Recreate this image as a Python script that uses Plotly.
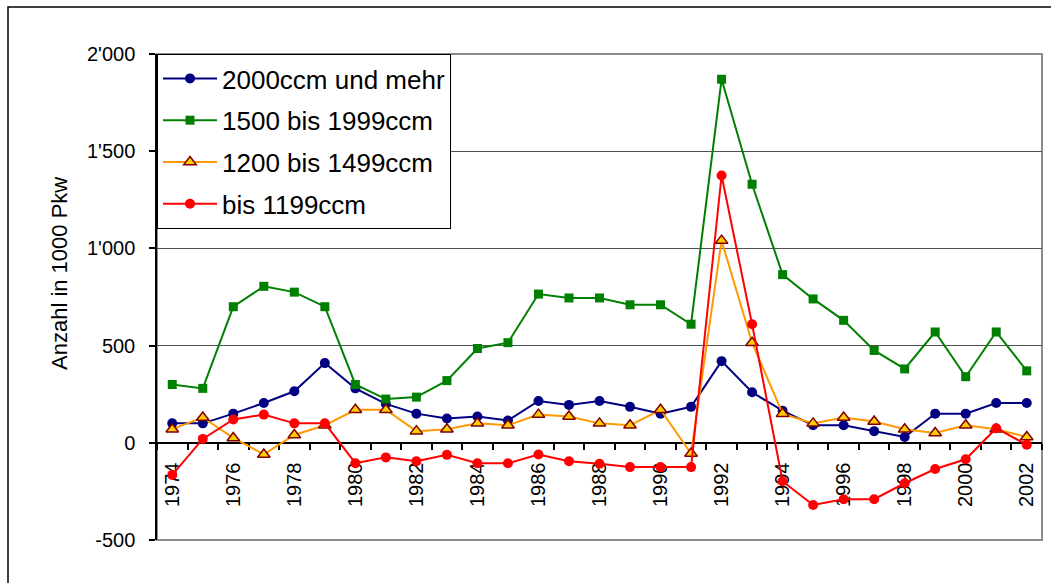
import plotly.graph_objects as go

# Neuzulassungen nach Hubraumklasse, Veränderung in 1000 Pkw
years = list(range(1974, 2003))

ccm_2000_plus = [100, 100, 150, 205, 265, 410, 280, 200, 150, 125,
                 135, 115, 215, 195, 215, 185, 150, 185, 420, 260,
                 165, 90, 90, 60, 30, 150, 150, 205, 205]
ccm_1500_1999 = [300, 280, 700, 805, 775, 700, 300, 225, 235, 320,
                 485, 515, 765, 745, 745, 710, 710, 610, 1870, 1330,
                 865, 740, 630, 475, 380, 570, 340, 570, 370]
ccm_1200_1499 = [70, 130, 25, -60, 40, 90, 170, 170, 60, 70,
                 100, 90, 145, 135, 100, 90, 170, -55, 1040, 515,
                 150, 100, 130, 110, 70, 50, 90, 70, 30]
ccm_bis_1199 = [-165, 20, 120, 145, 100, 100, -105, -75, -95, -62,
                -105, -105, -60, -95, -108, -125, -125, -125, 1375, 610,
                -198, -320, -290, -290, -208, -135, -85, 75, -10]

series_names = ["2000ccm und mehr", "1500 bis 1999ccm", "1200 bis 1499ccm", "bis 1199ccm"]

x_labels = [str(y) for y in years[::2]]
y_ticks = [-500, 0, 500, 1000, 1500, 2000]
y_tick_text = ["-500", "0", "500", "1'000", "1'500", "2'000"]

FONT = "Liberation Sans, Arial, sans-serif"

fig = go.Figure()

fig.add_trace(go.Scatter(
    x=years, y=ccm_2000_plus, name=series_names[0], mode="lines+markers",
    line=dict(color="#000080", width=2),
    marker=dict(symbol="circle", size=10, color="#000080"),
    legendgroup="a"))
fig.add_trace(go.Scatter(
    x=years, y=ccm_1500_1999, name=series_names[1], mode="lines+markers",
    line=dict(color="#008000", width=2),
    marker=dict(symbol="square", size=9, color="#008000"),
    legendgroup="b"))
fig.add_trace(go.Scatter(
    x=years, y=ccm_1200_1499, name=series_names[2], mode="lines+markers",
    line=dict(color="#FF9900", width=2),
    marker=dict(symbol="triangle-up", size=11, color="#FFCC00",
                line=dict(color="#800000", width=1.5)),
    legendgroup="c"))
fig.add_trace(go.Scatter(
    x=years, y=ccm_bis_1199, name=series_names[3], mode="lines+markers",
    line=dict(color="#FF0000", width=2),
    marker=dict(symbol="circle", size=10, color="#FF0000"),
    legendgroup="d"))

W, H = 1051, 583
ML, MR, MT, MB = 157, 9, 54, 43
pw, ph = W - ML - MR, H - MT - MB


def px_x(p):
    return (p - ML) / pw


def px_y(p):
    return (H - MB - p) / ph


fig.update_layout(
    width=W, height=H,
    margin=dict(l=ML, r=MR, t=MT, b=MB, pad=0),
    paper_bgcolor="white", plot_bgcolor="white",
    font=dict(family=FONT, color="black", size=20),
    showlegend=True,
    legend=dict(
        x=0, y=1, xanchor="left", yanchor="top",
        bgcolor="white", bordercolor="black", borderwidth=1,
        font=dict(family=FONT, size=26, color="black"),
        tracegroupgap=5, itemwidth=54,
    ),
    xaxis=dict(
        range=[1973.5, 2002.5],
        tickmode="array", tickvals=years[::2], ticktext=x_labels,
        tickangle=-90, ticks="", ticklabelstandoff=11,
        tickfont=dict(family=FONT, size=20),
        showline=True, linecolor="black", linewidth=1.5,
        showgrid=False, zeroline=False,
        anchor="free", position=0.2,
        layer="below traces",
        minor=dict(tick0=1974.5, dtick=1, ticks="outside", ticklen=6,
                   tickcolor="black", tickwidth=1.5, showgrid=False),
    ),
    yaxis=dict(
        range=[-500, 2000],
        tickmode="array", tickvals=y_ticks, ticktext=y_tick_text,
        ticks="outside", ticklen=6, tickcolor="black", tickwidth=1.5,
        ticklabelstandoff=10,
        tickfont=dict(family=FONT, size=20),
        showline=True, linecolor="black", linewidth=1.5,
        showgrid=True, gridcolor="#505050", gridwidth=1,
        zeroline=False,
        layer="below traces",
    ),
    shapes=[
        # plot area frame
        dict(type="rect", xref="paper", yref="paper", x0=0, x1=1, y0=0, y1=1,
             line=dict(color="#8C8C8C", width=2), fillcolor="rgba(0,0,0,0)",
             layer="below"),
        # chart frame
        dict(type="rect", xref="paper", yref="paper",
             x0=px_x(8), x1=px_x(1080), y0=px_y(7), y1=px_y(620),
             line=dict(color="black", width=1.5), fillcolor="rgba(0,0,0,0)",
             layer="below"),
    ],
    annotations=[
        dict(text="Anzahl in 1000 Pkw", xref="paper", yref="paper",
             x=px_x(59), y=px_y(274), xanchor="center", yanchor="middle",
             textangle=-90, showarrow=False,
             font=dict(family=FONT, size=22, color="black")),
    ],
)

fig.write_html("out.html")
